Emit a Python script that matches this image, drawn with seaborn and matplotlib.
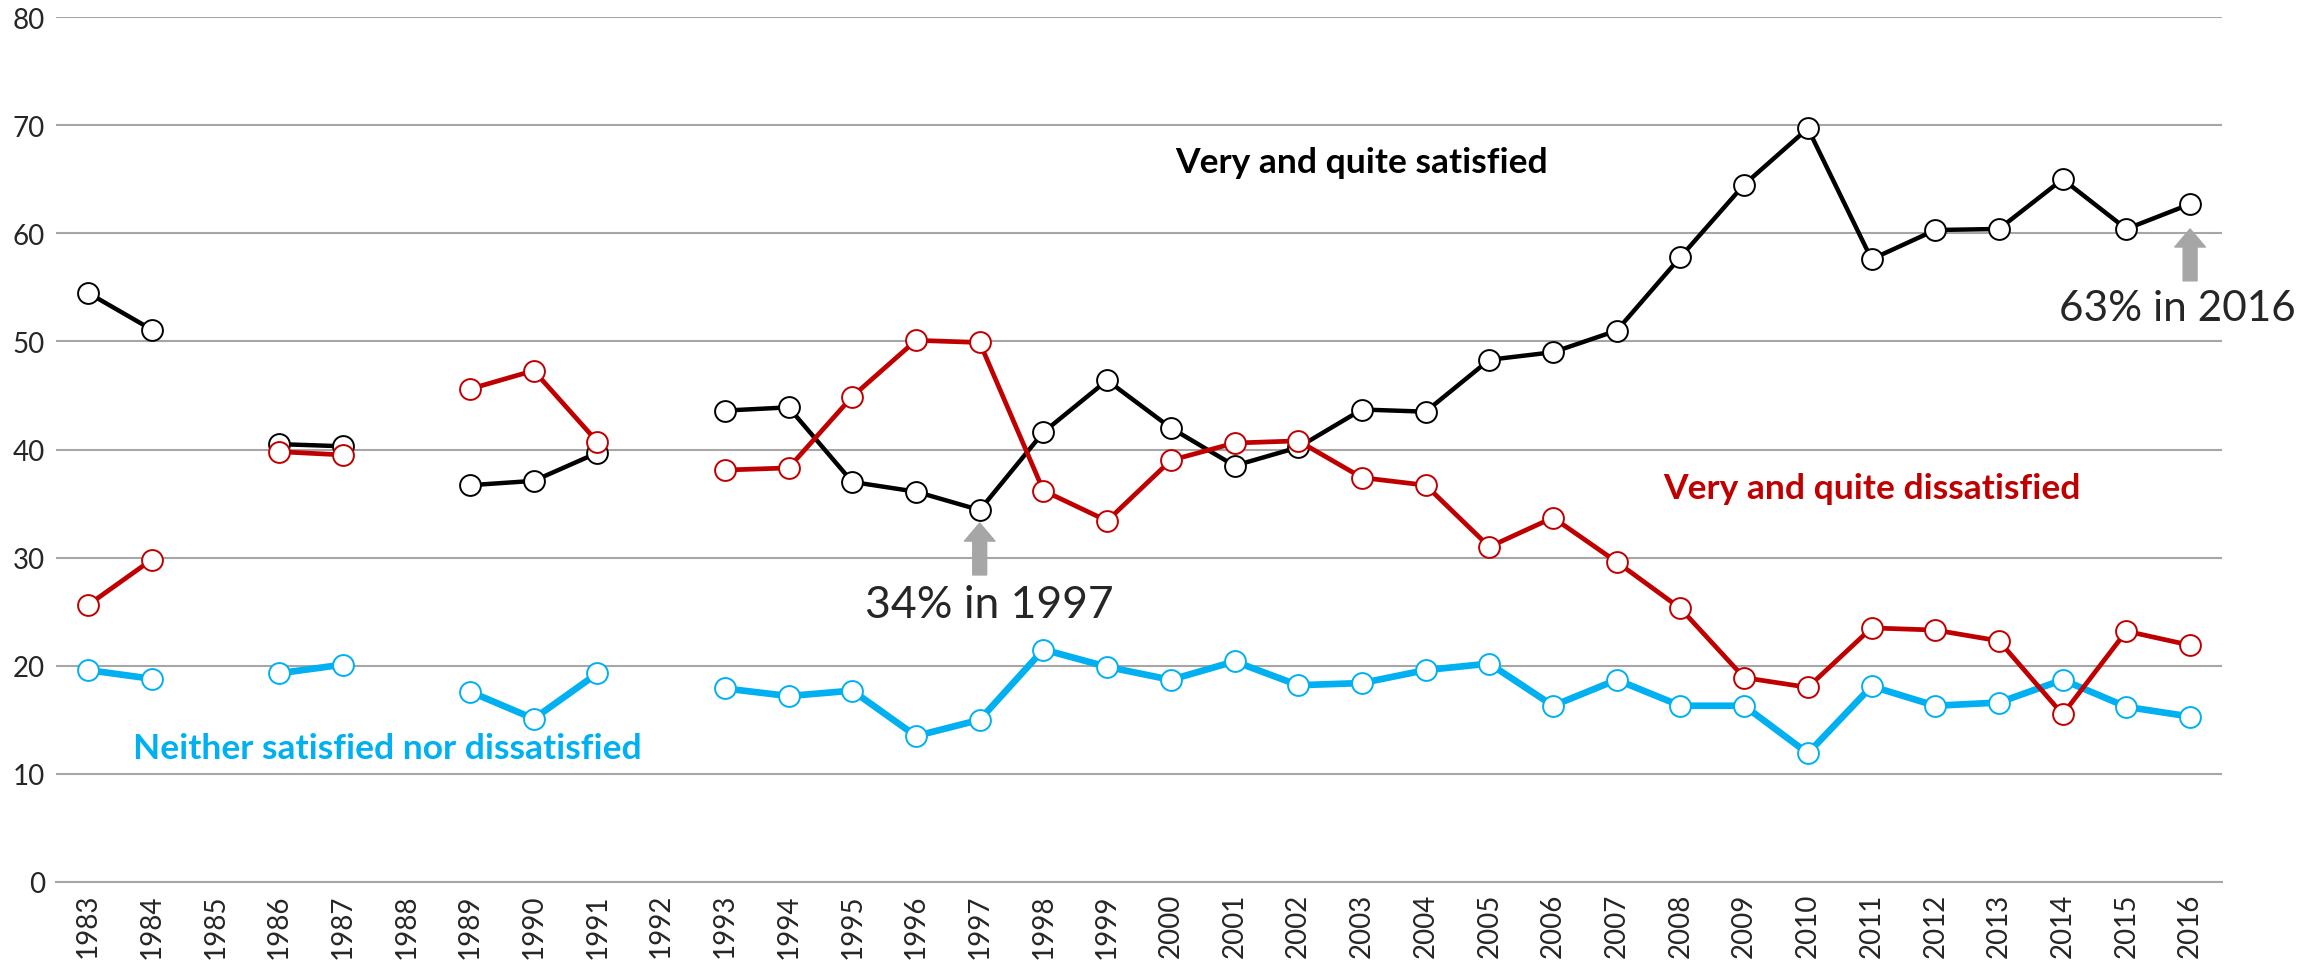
import numpy as np
import pandas as pd
import matplotlib
matplotlib.use("Agg")
import matplotlib.pyplot as plt
import seaborn as sns

nan = np.nan

# survey years (categories on the x axis)
years = ['1983', '1984', '1985', '1986', '1987', '1988', '1989', '1990', '1991', '1992',
         '1993', '1994', '1995', '1996', '1997', '1998', '1999', '2000', '2001', '2002',
         '2003', '2004', '2005', '2006', '2007', '2008', '2009', '2010', '2011', '2012',
         '2013', '2014', '2015', '2016']

satisfied = [54.5, 51.1, nan, 40.5, 40.3, nan, 36.7, 37.1, 39.7, nan,
             43.6, 43.9, 37.0, 36.1, 34.4, 41.6, 46.4, 42.0, 38.5, 40.2,
             43.7, 43.5, 48.3, 49.0, 51.0, 57.8, 64.5, 69.7, 57.6, 60.3,
             60.4, 65.0, 60.4, 62.7]

dissatisfied = [25.6, 29.8, nan, 39.8, 39.5, nan, 45.6, 47.3, 40.7, nan,
                38.1, 38.3, 44.9, 50.1, 49.9, 36.2, 33.4, 39.0, 40.6, 40.8,
                37.4, 36.7, 31.0, 33.7, 29.6, 25.3, 18.9, 18.0, 23.5, 23.3,
                22.3, 15.5, 23.2, 21.9]

neither = [19.6, 18.8, nan, 19.3, 20.1, nan, 17.6, 15.1, 19.3, nan,
           17.9, 17.2, 17.7, 13.5, 15.0, 21.5, 19.9, 18.7, 20.4, 18.2,
           18.4, 19.6, 20.2, 16.3, 18.7, 16.3, 16.3, 11.9, 18.1, 16.3,
           16.6, 18.7, 16.2, 15.3]

series_names = ['Neither satisfied nor dissatisfied', 'Very and quite satisfied',
                'Very and quite dissatisfied']
series_values = [neither, satisfied, dissatisfied]
colors = ['#00b0f0', '#000000', '#c00000']
widths = [4.8, 3.2, 3.4]


def to_long(name, vals):
    # split into runs so gaps (missing years) break the line
    rows = []
    seg = 0
    for i, v in enumerate(vals):
        if np.isnan(v):
            seg += 1
            continue
        rows.append({'series': name, 'pos': i, 'value': v, 'seg': seg})
    return rows


rows = []
for name, vals in zip(series_names, series_values):
    rows += to_long(name, vals)
df = pd.DataFrame(rows)

sns.set_style('white')
plt.rcParams['font.family'] = ['Lato', 'DejaVu Sans']

fig = plt.figure(figsize=(23.23, 9.70), dpi=100)
ax = fig.add_axes([0.0241, 0.0897, 0.9324, 0.8917])

for name, c, lw in zip(series_names, colors, widths):
    sns.lineplot(data=df[df['series'] == name], x='pos', y='value', units='seg',
                 estimator=None, sort=False, color=c, lw=lw, marker='o', ms=15,
                 mfc='white', mec=c, mew=1.4, legend=False, ax=ax)

ax.set_xlim(-0.5, len(years) - 0.5)
ax.set_ylim(0, 80)
ax.set_yticks(range(0, 81, 10))
ax.yaxis.grid(True, color='#a6a6a6', lw=1.5)
ax.set_axisbelow(True)
ax.set_xlabel('')
ax.set_ylabel('')

ax.set_xticks(range(len(years)))
ax.set_xticklabels(years, rotation=90, fontsize=20)
ax.set_xticks(np.arange(-0.5, len(years), 1), minor=True)
ax.tick_params(axis='x', which='major', length=0, pad=8)
ax.tick_params(axis='x', which='minor', length=7, width=1.5, color='#a6a6a6', direction='out')
ax.tick_params(axis='y', length=0, pad=8, labelsize=20)

for s in ['top', 'right', 'left']:
    ax.spines[s].set_visible(False)
ax.spines['bottom'].set_color('#a6a6a6')
ax.spines['bottom'].set_linewidth(1.5)

# series labels
ax.text(20, 66.6, 'Very and quite satisfied', color='#000000', fontsize=25.5,
        fontweight='bold', ha='center', va='center')
ax.text(28, 36.4, 'Very and quite dissatisfied', color='#c00000', fontsize=25.5,
        fontweight='bold', ha='center', va='center')
ax.text(4.7, 12.4, 'Neither satisfied nor dissatisfied', color='#00b0f0', fontsize=25.5,
        fontweight='bold', ha='center', va='center')

# callouts
arrow = dict(arrowstyle='simple,head_width=2.2,head_length=1.3,tail_width=1.0',
             color='#a6a6a6', shrinkA=0, shrinkB=0)
ax.annotate('', xy=(14, 33.2), xytext=(14, 28.4), arrowprops=arrow)
ax.text(14.15, 25.7, '34% in 1997', fontsize=32, ha='center', va='center')
ax.annotate('', xy=(33, 60.4), xytext=(33, 55.6), arrowprops=arrow)
ax.text(32.8, 53.1, '63% in 2016', fontsize=30.5, ha='center', va='center')

fig.savefig('out.png', dpi=100)
